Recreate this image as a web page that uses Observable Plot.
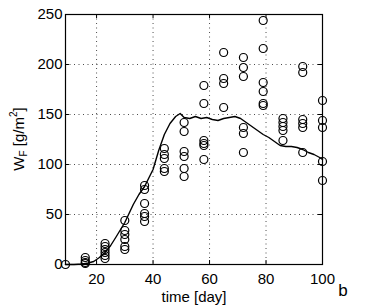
<!DOCTYPE html>
<html>
<head>
<meta charset="utf-8">
<script src="https://cdn.jsdelivr.net/npm/d3@7"></script>
<script src="https://cdn.jsdelivr.net/npm/@observablehq/plot@0.6"></script>
<style>
  html, body { margin: 0; padding: 0; background: #fff; }
  #chart svg { display: block; }
</style>
</head>
<body>
<div id="chart"></div>
<script>
// Observation days and the measured values on each day
const obsDays = [9, 16, 23, 30, 37, 44, 51, 58, 65, 72, 79, 86, 93, 100];
const obsValues = [
  [0],
  [7, 4, 2, 1],
  [21, 18, 15, 12, 9, 6],
  [44, 34, 30, 25, 18, 15],
  [79, 75, 61, 51, 48, 43],
  [116, 110, 106, 96, 93],
  [142, 133, 113, 108, 96, 88],
  [179, 161, 124, 121, 119, 105],
  [212, 186, 181, 157],
  [207, 197, 188, 137, 131, 112],
  [244, 216, 182, 173, 161, 159],
  [146, 142, 138, 134, 124],
  [198, 192, 145, 141, 137, 112],
  [164, 144, 137, 103, 84]
];

// Simulated curve
const modelDays = [9, 12, 15, 17, 19, 21, 23, 25, 27, 30, 33, 35, 37, 40, 42, 44, 46, 48, 49.6, 51, 53, 55, 57, 59, 61, 63, 65, 67, 69, 71, 73, 75, 77, 79, 81, 83, 85, 87, 89, 91, 93, 95, 97, 99, 100];
const modelValues = [0, 0, 0.5, 1.5, 3, 7, 12, 19, 28, 42, 60, 70, 78, 95, 114, 130, 141, 148, 151, 147, 146, 148, 146, 147, 145, 144, 146, 147, 148, 146, 142, 138, 134, 130, 127, 123, 119, 118, 118, 117, 115, 112, 110, 107, 105];

const xTicks = [20, 40, 60, 80, 100];
const yTicks = [0, 50, 100, 150, 200, 250];

const obs = obsDays.flatMap((d, i) => obsValues[i].map(v => ({day: d, w: v})));
const model = modelDays.map((d, i) => ({day: d, w: modelValues[i]}));

const font = "'Liberation Sans', Arial, Helvetica, sans-serif";

const chart = Plot.plot({
  width: 367,
  height: 307,
  marginLeft: 65,
  marginRight: 45,
  marginTop: 14,
  marginBottom: 43,
  style: {fontFamily: font, fontSize: "15px", color: "#000", background: "#fff", overflow: "visible"},
  x: {domain: [9, 100]},
  y: {domain: [0, 250]},
  marks: [
    Plot.gridX(xTicks, {stroke: "#000", strokeOpacity: 0.7, strokeDasharray: "1,3.5"}),
    Plot.gridY(yTicks, {stroke: "#000", strokeOpacity: 0.7, strokeDasharray: "1,3.5"}),
    Plot.axisX(xTicks, {tickSize: 0, tickPadding: 9, label: "time [day]", labelAnchor: "center", labelArrow: "none", labelOffset: 37, fontSize: 15}),
    Plot.axisY(yTicks, {tickSize: 0, tickPadding: 3, label: null, fontSize: 15}),
    Plot.ruleX(xTicks, {x: d => d, y1: 0, y2: 4, stroke: "#000"}),
    Plot.ruleX(xTicks, {x: d => d, y1: 246, y2: 250, stroke: "#000"}),
    Plot.ruleY(yTicks, {y: d => d, x1: 9, x2: 10.4, stroke: "#000"}),
    Plot.ruleY(yTicks, {y: d => d, x1: 98.6, x2: 100, stroke: "#000"}),
    Plot.line(model, {x: "day", y: "w", stroke: "#000", strokeWidth: 1.4}),
    Plot.dot(obs, {x: "day", y: "w", r: 4, stroke: "#000", strokeWidth: 1.2, fill: "none"}),
    Plot.frame({stroke: "#000", strokeWidth: 1.2})
  ]
});

const svg = d3.select(chart);
// y-axis label with subscript and superscript
const yl = svg.append("text")
  .attr("transform", "translate(20,139) rotate(-90)")
  .attr("text-anchor", "middle")
  .attr("dominant-baseline", "middle")
  .attr("font-family", font)
  .attr("font-size", 15)
  .attr("fill", "#000");
yl.append("tspan").text("W");
yl.append("tspan").attr("font-size", 10).attr("dy", 4).text("F");
yl.append("tspan").attr("dy", -4).text(" [g/m");
yl.append("tspan").attr("font-size", 10).attr("dy", -6).text("2");
yl.append("tspan").attr("dy", 6).text("]");

// panel letter
svg.append("text")
  .attr("x", 343)
  .attr("y", 296)
  .attr("text-anchor", "middle")
  .attr("font-family", font)
  .attr("font-size", 17)
  .attr("fill", "#000")
  .text("b");

document.getElementById("chart").appendChild(chart);
</script>
</body>
</html>
